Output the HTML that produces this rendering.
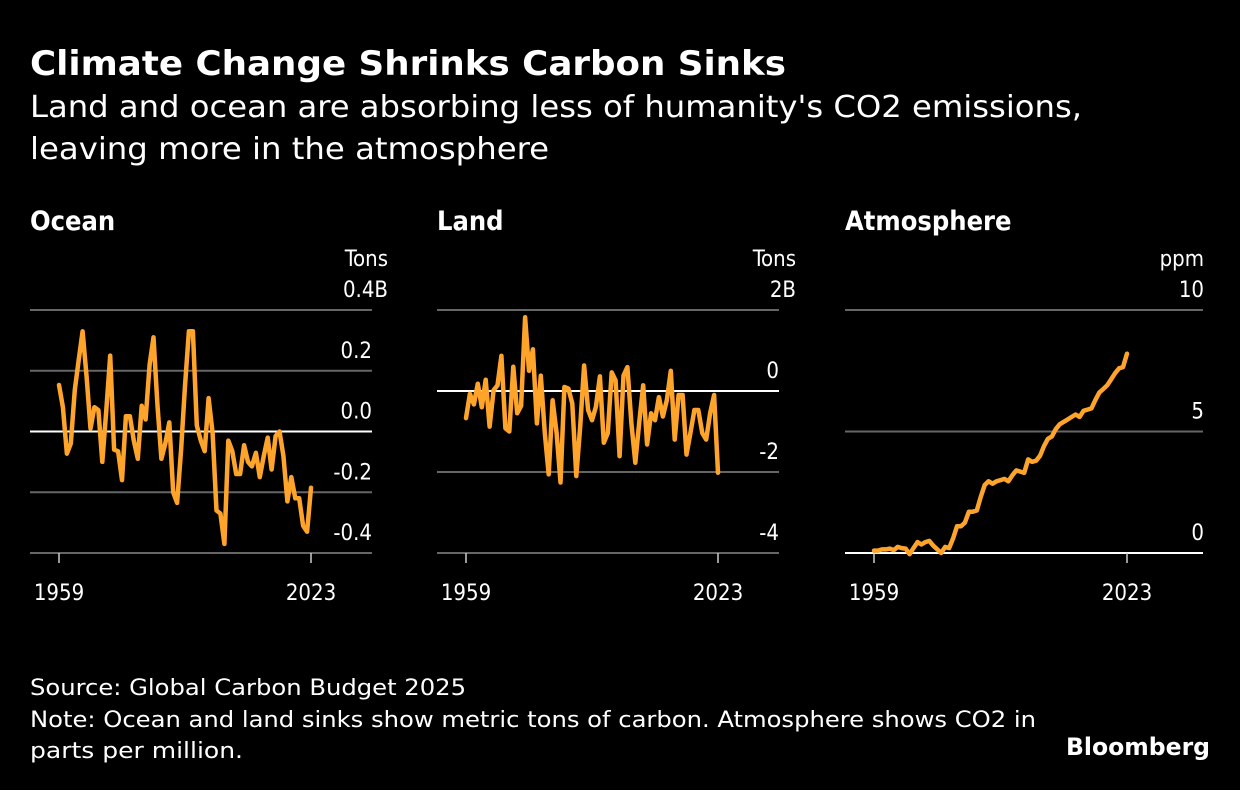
<!DOCTYPE html>
<html><head><meta charset="utf-8">
<style>
html,body{margin:0;padding:0;background:#000;}
svg{display:block;font-family:"DejaVu Sans Condensed","DejaVu Sans","Liberation Sans",sans-serif;}
</style></head>
<body>
<svg id="chart" width="1240" height="790" viewBox="0 0 1240 790" xmlns="http://www.w3.org/2000/svg">
<rect width="1240" height="790" fill="#000"/>
<text x="30" y="75" fill="#fff" font-size="34" font-weight="bold" font-family="DejaVu Sans, sans-serif" textLength="756" lengthAdjust="spacingAndGlyphs">Climate Change Shrinks Carbon Sinks</text>
<text x="30" y="117" fill="#fff" font-size="30" textLength="1052" lengthAdjust="spacingAndGlyphs">Land and ocean are absorbing less of humanity's CO2 emissions,</text>
<text x="30" y="159" fill="#fff" font-size="30" textLength="519" lengthAdjust="spacingAndGlyphs">leaving more in the atmosphere</text>
<g id="panels"></g>
<text x="30" y="695" fill="#fff" font-size="22" textLength="436" lengthAdjust="spacingAndGlyphs">Source: Global Carbon Budget 2025</text>
<text x="30" y="727" fill="#fff" font-size="22" textLength="1006" lengthAdjust="spacingAndGlyphs">Note: Ocean and land sinks show metric tons of carbon. Atmosphere shows CO2 in</text>
<text x="30" y="758" fill="#fff" font-size="22" textLength="213" lengthAdjust="spacingAndGlyphs">parts per million.</text>
<text x="1210" y="755" fill="#fff" font-size="24" font-weight="bold" text-anchor="end" textLength="144" lengthAdjust="spacingAndGlyphs">Bloomberg</text>
</svg>
<script>
const years = [];
for (let y = 1959; y <= 2023; y++) years.push(y);
const oceanValues = [0.153,0.08,-0.073,-0.04,0.137,0.235,0.33,0.18,0.01,0.08,0.07,-0.1,0.07,0.25,-0.06,-0.065,-0.16,0.05,0.05,-0.03,-0.09,0.085,0.04,0.22,0.31,0.09,-0.09,-0.04,0.03,-0.2,-0.235,-0.06,0.15,0.33,0.33,0.02,-0.03,-0.065,0.11,-0.005,-0.26,-0.27,-0.37,-0.03,-0.065,-0.14,-0.14,-0.045,-0.1,-0.115,-0.07,-0.15,-0.08,-0.02,-0.125,-0.015,0,-0.08,-0.23,-0.15,-0.22,-0.22,-0.31,-0.33,-0.185];
const landValues = [-0.67,-0.07,-0.33,0.18,-0.4,0.28,-0.88,0.02,0.14,0.87,-0.92,-1.0,0.6,-0.55,-0.37,1.82,0.5,1.03,-0.8,0.38,-1.04,-2.06,-0.23,-1.04,-2.26,0.1,0.06,-0.31,-2.1,-0.88,0.63,-0.47,-0.72,-0.39,0.36,-1.28,-1.04,0.46,0.26,-1.61,0.38,0.59,-0.8,-1.77,-0.76,0.14,-1.32,-0.55,-0.72,-0.15,-0.63,-0.23,0.5,-1.2,-0.1,-0.1,-1.57,-1.04,-0.47,-0.47,-1.04,-1.2,-0.55,-0.1,-2.02];
const atmosValues = [0.1,0.1,0.15,0.15,0.18,0.12,0.25,0.2,0.18,-0.05,0.2,0.45,0.35,0.45,0.5,0.3,0.15,0.0,0.25,0.2,0.6,1.1,1.1,1.25,1.7,1.7,1.75,2.3,2.8,2.95,2.85,2.95,3.0,3.05,2.95,3.2,3.4,3.35,3.3,3.85,3.75,3.8,4.0,4.4,4.7,4.8,5.1,5.3,5.4,5.5,5.6,5.7,5.6,5.85,5.9,5.95,6.3,6.6,6.75,6.9,7.15,7.4,7.6,7.65,8.2];
const oceanTicks = [0.4,0.2,0,-0.2,-0.4];
const oceanTickLabels = ["0.4B","0.2","0.0","-0.2","-0.4"];
const landTicks = [2,0,-2,-4];
const landTickLabels = ["2B","0","-2","-4"];
const atmosTicks = [10,5,0];
const atmosTickLabels = ["10","5","0"];
const xTickYears = [1959, 2023];

const NS = "http://www.w3.org/2000/svg";
const root = document.getElementById('panels');
function mk(tag, attrs, parent){const e=document.createElementNS(NS,tag);for(const k in attrs)e.setAttribute(k,attrs[k]);(parent||root).appendChild(e);return e;}

const panels = [
 {name:'ocean', title:'Ocean', unit:'Tons', gx0:30, gx1:372, lx:372, ux:388, px0:59, px1:311, min:-0.4, max:0.4, ticks:oceanTicks, labels:oceanTickLabels, vals:oceanValues},
 {name:'land', title:'Land', unit:'Tons', gx0:437, gx1:779, lx:779, ux:796, px0:466, px1:718, min:-4, max:2, ticks:landTicks, labels:landTickLabels, vals:landValues},
 {name:'atmosphere', title:'Atmosphere', unit:'ppm', gx0:845, gx1:1203, lx:1204, ux:1204, px0:874, px1:1127, min:0, max:10, ticks:atmosTicks, labels:atmosTickLabels, vals:atmosValues}
];
const TOP=310, BOT=553;
panels.forEach(p=>{
  const g = mk('g',{});
  
  
  const yS = v => BOT - (v - p.min)/(p.max - p.min)*(BOT-TOP);
  const xS = yr => p.px0 + (yr-1959)/(2023-1959)*(p.px1-p.px0);
  const t = mk('text',{x:p.gx0, y:230, fill:'#fff','font-size':27,'font-weight':'bold'},g);
  t.textContent = p.title;
  
  
  const u = mk('text',{x:p.ux, y:266, fill:'#fff','font-size':22,'text-anchor':'end'},g);
  u.textContent = p.unit;
  
  
  p.ticks.forEach((tv,i)=>{
    const y = yS(tv);
    const isZero = tv===0;
    const l = mk('line',{x1:p.gx0,x2:p.gx1,y1:y,y2:y,stroke:isZero?'#fff':'#666','stroke-width':2},g);
    
    
    const lx = (i===0) ? p.ux : p.lx;
    const lb = mk('text',{x:lx, y:y-13, fill:'#fff','font-size':22,'text-anchor':'end'},g);
    lb.textContent = p.labels[i];
    
    
  });
  xTickYears.forEach(yr=>{
    const x = xS(yr);
    const tk = mk('line',{x1:x,x2:x,y1:BOT,y2:BOT+10,stroke:'#ccc','stroke-width':1.5},g);
    
    
    const tl = mk('text',{x:x,y:600,fill:'#fff','font-size':22,'text-anchor':'middle'},g);
    tl.textContent = yr;
    
    
  });
  const d = p.vals.map((v,i)=>(i?'L':'M')+xS(years[i]).toFixed(1)+','+yS(v).toFixed(1)).join('');
  const path = mk('path',{d:d,fill:'none',stroke:'#ffa42b','stroke-width':4.5,'stroke-linejoin':'round','stroke-linecap':'round'},g);
  
  
});
</script>
</body></html>
